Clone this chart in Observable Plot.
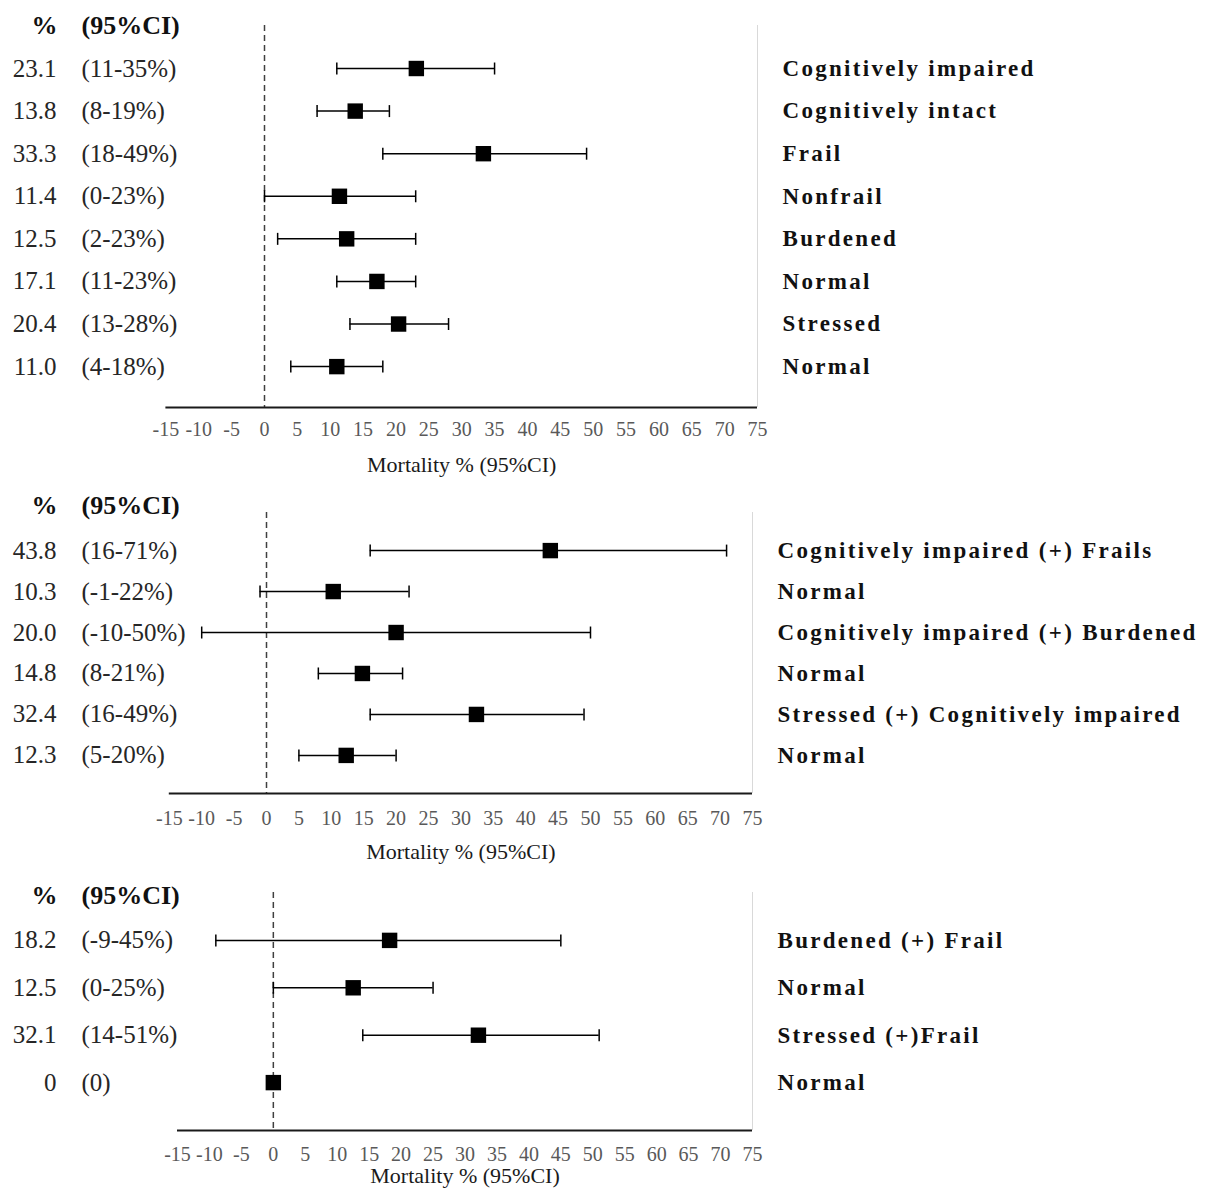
<!DOCTYPE html>
<html>
<head>
<meta charset="utf-8">
<script src="https://cdn.jsdelivr.net/npm/d3@7"></script>
<script src="https://cdn.jsdelivr.net/npm/@observablehq/plot@0.6"></script>
<style>
  html, body { margin: 0; padding: 0; background: #fff; overflow: hidden; }
  #chart svg { display: block; }
</style>
</head>
<body>
<div id="chart"></div>
<script>
// ---------- data ----------
const xTicks = [-15, -10, -5, 0, 5, 10, 15, 20, 25, 30, 35, 40, 45, 50, 55, 60, 65, 70, 75];
const axisTitle = "Mortality % (95%CI)";
const headerPct = "%";
const headerCI = "(95%CI)";

// Panel 1
const p1Labels = ["Cognitively impaired", "Cognitively intact", "Frail", "Nonfrail", "Burdened", "Normal", "Stressed", "Normal"];
const p1Est = [23.1, 13.8, 33.3, 11.4, 12.5, 17.1, 20.4, 11.0];
const p1Lo = [11, 8, 18, 0, 2, 11, 13, 4];
const p1Hi = [35, 19, 49, 23, 23, 23, 28, 18];
const p1EstText = ["23.1", "13.8", "33.3", "11.4", "12.5", "17.1", "20.4", "11.0"];
const p1CiText = ["(11-35%)", "(8-19%)", "(18-49%)", "(0-23%)", "(2-23%)", "(11-23%)", "(13-28%)", "(4-18%)"];

// Panel 2
const p2Labels = ["Cognitively impaired (+) Frails", "Normal", "Cognitively impaired (+) Burdened", "Normal", "Stressed (+) Cognitively impaired", "Normal"];
const p2Est = [43.8, 10.3, 20.0, 14.8, 32.4, 12.3];
const p2Lo = [16, -1, -10, 8, 16, 5];
const p2Hi = [71, 22, 50, 21, 49, 20];
const p2EstText = ["43.8", "10.3", "20.0", "14.8", "32.4", "12.3"];
const p2CiText = ["(16-71%)", "(-1-22%)", "(-10-50%)", "(8-21%)", "(16-49%)", "(5-20%)"];

// Panel 3
const p3Labels = ["Burdened (+) Frail", "Normal", "Stressed (+)Frail", "Normal"];
const p3Est = [18.2, 12.5, 32.1, 0];
const p3Lo = [-9, 0, 14, 0];
const p3Hi = [45, 25, 51, 0];
const p3EstText = ["18.2", "12.5", "32.1", "0"];
const p3CiText = ["(-9-45%)", "(0-25%)", "(14-51%)", "(0)"];

// ---------- drawing ----------
const capSymbol = {
  draw(context, size) {
    const r = Math.sqrt(size / Math.PI);
    context.moveTo(0, -r);
    context.lineTo(0, r);
  }
};

const FONT = "'Liberation Serif', 'Times New Roman', serif";

function panel(d, cfg) {
  const n = d.labels.length;
  const rows = d.labels.map((label, i) => ({
    i, label, est: d.est[i], lo: d.lo[i], hi: d.hi[i],
    estText: d.estText[i], ciText: d.ciText[i]
  }));
  const withCI = rows.filter(r => r.lo !== r.hi);
  const yBottom = n - 1 + cfg.padBottom;
  const valX = 56 - cfg.marginLeft;
  const ciX = 81 - cfg.marginLeft;
  return Plot.plot({
    width: 1211,
    height: cfg.height,
    marginLeft: cfg.marginLeft,
    marginRight: cfg.marginRight,
    marginTop: cfg.marginTop,
    marginBottom: cfg.marginBottom,
    style: { fontFamily: FONT, background: "#fff", overflow: "visible" },
    x: { domain: [-15, 75] },
    y: { domain: [-cfg.padTop, yBottom], reverse: true, axis: null },
    marks: [
      Plot.ruleX([75], { stroke: "#d9d9d9", strokeWidth: 1 }),
      Plot.ruleX([0], { stroke: "#404040", strokeWidth: 1.5, strokeDasharray: "6,4" }),
      Plot.ruleY([yBottom], { stroke: "#1a1a1a", strokeWidth: 2 }),
      Plot.axisX({
        ticks: xTicks, tickSize: 0, tickPadding: cfg.tickPad,
        tickFormat: v => String(v), fontSize: 20, fill: "#595959", label: null
      }),
      Plot.text([axisTitle], {
        frameAnchor: "bottom", lineAnchor: "middle", dy: cfg.titleDy,
        fontSize: 22, fill: "#1a1a1a"
      }),
      // whiskers
      Plot.ruleY(withCI, { y: "i", x1: "lo", x2: "hi", stroke: "#000", strokeWidth: 1.5 }),
      Plot.dot(withCI, { x: "lo", y: "i", symbol: capSymbol, r: 6, stroke: "#000", strokeWidth: 1.5, fill: "none" }),
      Plot.dot(withCI, { x: "hi", y: "i", symbol: capSymbol, r: 6, stroke: "#000", strokeWidth: 1.5, fill: "none" }),
      // markers
      Plot.dot(rows, { x: "est", y: "i", symbol: "square", r: 8.7, fill: "#000", stroke: "none" }),
      // header
      Plot.text([headerPct], {
        frameAnchor: "top-left", lineAnchor: "middle", dx: valX + 1, dy: cfg.headerDy,
        textAnchor: "end", fontWeight: "bold", fontSize: 26, fill: "#111"
      }),
      Plot.text([headerCI], {
        frameAnchor: "top-left", lineAnchor: "middle", dx: ciX, dy: cfg.headerDy,
        textAnchor: "start", fontWeight: "bold", fontSize: 26, fill: "#111"
      }),
      // left columns
      Plot.text(rows, {
        y: "i", text: "estText", frameAnchor: "left", dx: valX,
        textAnchor: "end", fontSize: 25, fill: "#262626"
      }),
      Plot.text(rows, {
        y: "i", text: "ciText", frameAnchor: "left", dx: ciX,
        textAnchor: "start", fontSize: 25, fill: "#262626"
      }),
      // right labels
      Plot.text(rows, {
        y: "i", text: "label", frameAnchor: "right", dx: cfg.labelDx,
        textAnchor: "start", fontWeight: "bold", fontSize: 23, fill: "#111"
      })
    ]
  });
}

const chart = document.getElementById("chart");

const s1 = panel(
  { labels: p1Labels, est: p1Est, lo: p1Lo, hi: p1Hi, estText: p1EstText, ciText: p1CiText },
  { height: 485, marginLeft: 165.4, marginRight: 454, marginTop: 25, marginBottom: 78,
    padTop: 1.01, padBottom: 0.96, headerDy: 0, tickPad: 14, titleDy: 57, labelDx: 25 }
);
const s2 = panel(
  { labels: p2Labels, est: p2Est, lo: p2Lo, hi: p2Hi, estText: p2EstText, ciText: p2CiText },
  { height: 385, marginLeft: 168.8, marginRight: 459, marginTop: 27, marginBottom: 77,
    padTop: 0.93, padBottom: 0.93, headerDy: -7, tickPad: 17, titleDy: 58, labelDx: 25 }
);
const s3 = panel(
  { labels: p3Labels, est: p3Est, lo: p3Lo, hi: p3Hi, estText: p3EstText, ciText: p3CiText },
  { height: 318, marginLeft: 177, marginRight: 459, marginTop: 22, marginBottom: 58,
    padTop: 1.01, padBottom: 1.01, headerDy: 3, tickPad: 16, titleDy: 45, labelDx: 25 }
);

[s1, s2, s3].forEach(s => chart.appendChild(s));

// widen spacing of the bold right-hand labels as in the reference
d3.select(chart).selectAll("g[font-size='23'] text").style("letter-spacing", "2.3px");
</script>
</body>
</html>
